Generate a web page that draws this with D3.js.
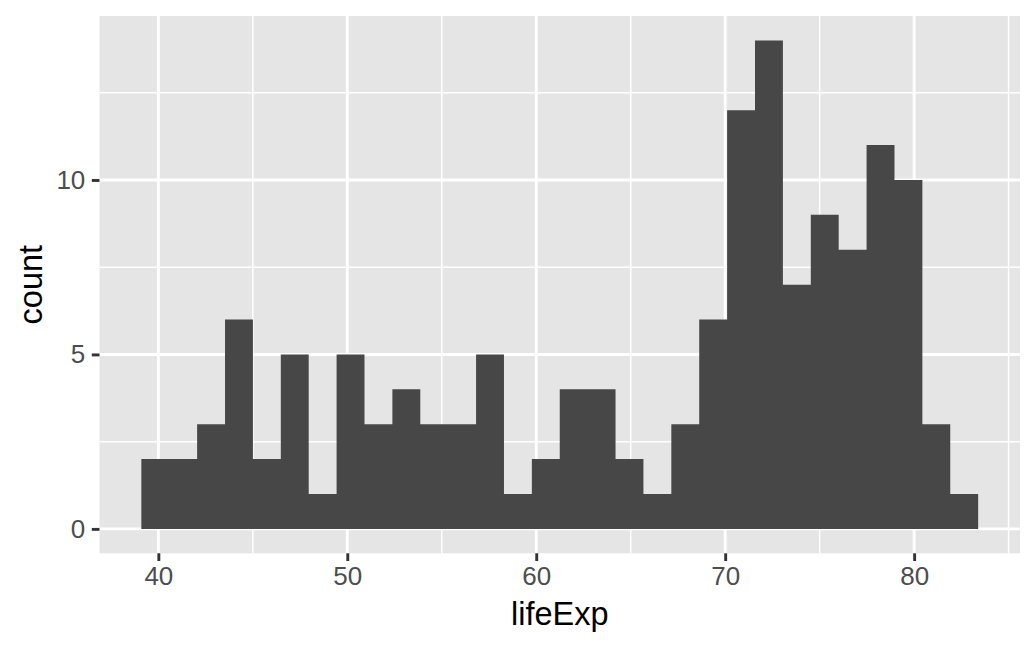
<!DOCTYPE html>
<html>
<head>
<meta charset="utf-8">
<script src="https://cdn.jsdelivr.net/npm/d3@7"></script>
<style>
  html, body { margin: 0; padding: 0; background: #fff; }
  svg { display: block; }
</style>
</head>
<body>
<svg id="chart" width="1036" height="648"></svg>
<script>
// Histogram of lifeExp (30 bins)
const binStart = 39.10;
const binWidth = 1.4763;
const counts = [2, 2, 3, 6, 2, 5, 1, 5, 3, 4, 3, 3, 5, 1, 2, 4, 4, 2, 1, 3, 6, 12, 14, 7, 9, 8, 11, 10, 3, 1];
const xTicks = [40, 50, 60, 70, 80];
const xMinor = [45, 55, 65, 75, 85];
const yTicks = [0, 5, 10];
const yMinor = [2.5, 7.5, 12.5];
const xTitle = "lifeExp";
const yTitle = "count";

const bins = counts.map((c, i) => ({ x0: binStart + i * binWidth, x1: binStart + (i + 1) * binWidth, count: c }));

const svg = d3.select("#chart");
const panel = { left: 99.5, right: 1020, top: 16, bottom: 553.3 };

const xMin = bins[0].x0, xMax = bins[bins.length - 1].x1;
const xPad = (xMax - xMin) * 0.05;
const yMaxV = d3.max(counts);
const yPad = yMaxV * 0.05;

const x = d3.scaleLinear().domain([xMin - xPad, xMax + xPad]).range([panel.left, panel.right]);
const y = d3.scaleLinear().domain([-yPad, yMaxV + yPad]).range([panel.bottom, panel.top]);

// panel background
svg.append("rect")
  .attr("x", panel.left).attr("y", panel.top)
  .attr("width", panel.right - panel.left).attr("height", panel.bottom - panel.top)
  .attr("fill", "#e5e5e5");

const grid = svg.append("g");
// minor grid
grid.selectAll(".xminor").data(xMinor.filter(v => x(v) <= panel.right && x(v) >= panel.left)).enter().append("line")
  .attr("x1", d => x(d)).attr("x2", d => x(d)).attr("y1", panel.top).attr("y2", panel.bottom)
  .attr("stroke", "#fff").attr("stroke-width", 1.5);
grid.selectAll(".yminor").data(yMinor).enter().append("line")
  .attr("y1", d => y(d)).attr("y2", d => y(d)).attr("x1", panel.left).attr("x2", panel.right)
  .attr("stroke", "#fff").attr("stroke-width", 1.5);
// major grid
grid.selectAll(".xmajor").data(xTicks).enter().append("line")
  .attr("x1", d => x(d)).attr("x2", d => x(d)).attr("y1", panel.top).attr("y2", panel.bottom)
  .attr("stroke", "#fff").attr("stroke-width", 2.9);
grid.selectAll(".ymajor").data(yTicks).enter().append("line")
  .attr("y1", d => y(d)).attr("y2", d => y(d)).attr("x1", panel.left).attr("x2", panel.right)
  .attr("stroke", "#fff").attr("stroke-width", 2.9);

// bars: drawn as one outline path (avoids seams between adjacent bars)
const p = d3.path();
p.moveTo(x(bins[0].x0), y(0));
bins.forEach(b => {
  p.lineTo(x(b.x0), y(b.count));
  p.lineTo(x(b.x1), y(b.count));
});
p.lineTo(x(bins[bins.length - 1].x1), y(0));
p.closePath();
svg.append("path").attr("d", p.toString()).attr("fill", "#474747");

// axes
const font = "Liberation Sans, Arial, Helvetica, sans-serif";
const xAxis = d3.axisBottom(x).tickValues(xTicks).tickSize(7.7).tickPadding(6).tickFormat(d3.format("d"));
const gx = svg.append("g").attr("transform", `translate(0,${panel.bottom})`).call(xAxis);
gx.select(".domain").remove();
gx.selectAll(".tick line").attr("stroke", "#333333").attr("stroke-width", 2.9);
gx.selectAll(".tick text").attr("fill", "#4d4d4d").style("font-family", font).style("font-size", "26px");

const yAxis = d3.axisLeft(y).tickValues(yTicks).tickSize(7.7).tickPadding(6.5).tickFormat(d3.format("d"));
const gy = svg.append("g").attr("transform", `translate(${panel.left},0)`).call(yAxis);
gy.select(".domain").remove();
gy.selectAll(".tick line").attr("stroke", "#333333").attr("stroke-width", 2.9);
gy.selectAll(".tick text").attr("fill", "#4d4d4d").style("font-family", font).style("font-size", "26px");

// titles
svg.append("text")
  .attr("x", (panel.left + panel.right) / 2).attr("y", 625)
  .attr("text-anchor", "middle")
  .style("font-family", font).style("font-size", "32.5px").attr("fill", "#000")
  .text(xTitle);
svg.append("text")
  .attr("transform", `translate(42,${(panel.top + panel.bottom) / 2}) rotate(-90)`)
  .attr("text-anchor", "middle")
  .style("font-family", font).style("font-size", "32.5px").attr("fill", "#000")
  .text(yTitle);
</script>
</body>
</html>
